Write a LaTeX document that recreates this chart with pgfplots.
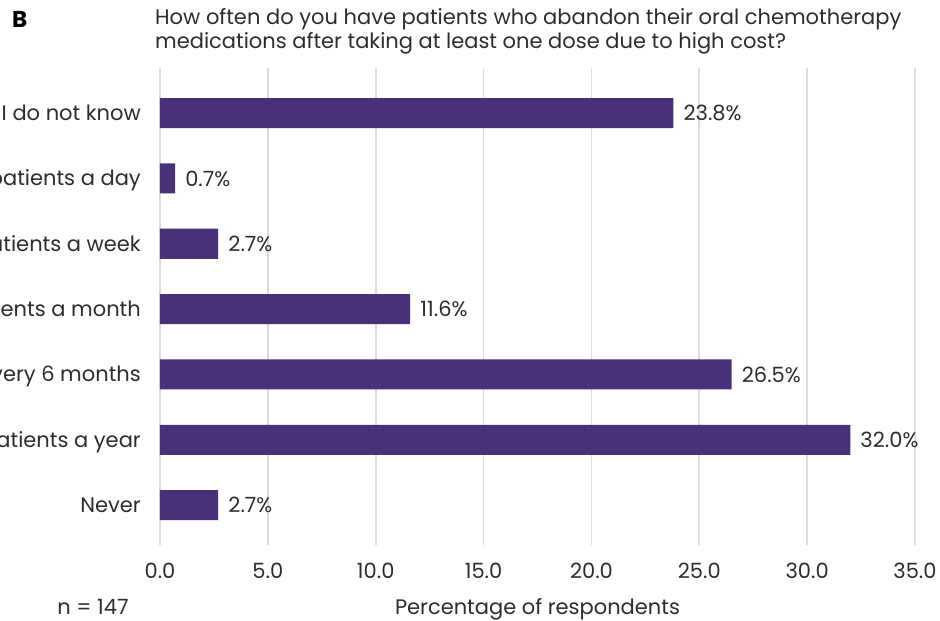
\documentclass[border=0pt]{standalone}
\usepackage{fontspec}
\setmainfont{Poppins}
\usepackage{pgfplots}
\pgfplotsset{compat=1.18}
\definecolor{barpurple}{RGB}{72,49,120}
\definecolor{txt}{RGB}{45,45,45}
\definecolor{gridgray}{RGB}{220,220,220}

\begin{document}
\begin{tikzpicture}[x=1bp, y=1bp, font=\fontsize{21bp}{24bp}\selectfont, color=txt]
\useasboundingbox (0,0) rectangle (940,621);
\clip (0,0) rectangle (940,621);

% panel letter and question
\node[anchor=base west, inner sep=0pt, font=\fontsize{23bp}{24bp}\selectfont\bfseries, text=black] at (12,593) {B};
\node[anchor=base west, inner sep=0pt] at (155,596) {How often do you have patients who abandon their oral chemotherapy};
\node[anchor=base west, inner sep=0pt] at (155,572) {medications after taking at least one dose due to high cost?};

\begin{axis}[
	at={(160bp,76bp)}, anchor=south west,
	scale only axis, width=755bp, height=477bp,
	xbar, bar width=0.46,
	xmin=0, xmax=35, ymin=-0.61, ymax=6.69,
	xtick={0,5,...,35},
	ytick={0,...,6},
	yticklabels={Never, 1 to 2 patients a year, 1 patient every 6 months, 1 to 2 patients a month, 1 to 2 patients a week, 1 to 2 patients a day, I do not know},
	xmajorgrids, grid style={gridgray, line width=1.8bp},
	axis line style={draw=none}, tick style={draw=none}, major tick length=0pt,
	/pgf/number format/assume math mode=true,
	xticklabel={\pgfmathprintnumber[fixed, fixed zerofill, precision=1]{\tick}},
	xticklabel style={anchor=base, inner sep=0pt, yshift=-34bp, text=txt},
	yticklabel style={anchor=base east, inner sep=0pt, xshift=-19bp, yshift=-7.5bp, text=txt},
	xlabel={Percentage of respondents},
	xlabel style={at={(axis description cs:0.5,0)}, anchor=base, inner sep=0pt, yshift=-70bp, text=txt},
	nodes near coords={\pgfmathprintnumber[fixed, fixed zerofill, precision=1]{\pgfplotspointmeta}\%},
	nodes near coords style={anchor=west, inner sep=0pt, xshift=10bp, text=txt},
	point meta=x,
]
\addplot[fill=barpurple, draw=none] coordinates {
	(2.7,0) (32.0,1) (26.5,2) (11.6,3) (2.7,4) (0.7,5) (23.8,6)
};
\end{axis}

\node[anchor=base, inner sep=0pt] at (93,6) {n = 147};
\end{tikzpicture}
\end{document}
